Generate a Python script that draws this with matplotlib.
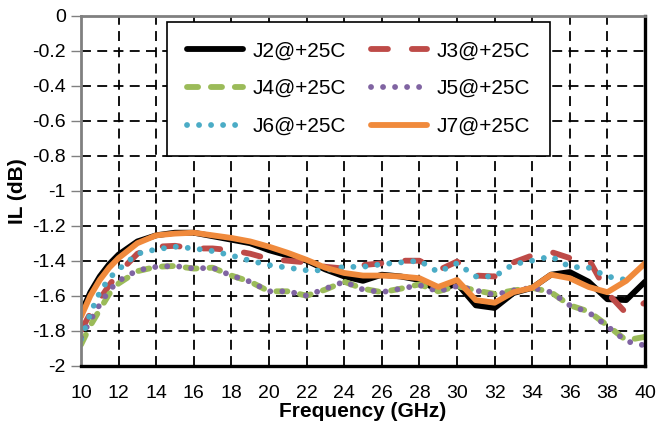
import numpy as np
import matplotlib
matplotlib.use('Agg')
import matplotlib.pyplot as plt

plt.rcParams['font.family'] = ['Liberation Sans', 'DejaVu Sans']
plt.rcParams['axes.unicode_minus'] = False

# ================= data =================
freq = [10, 10.5, 11, 11.5, 12, 13, 14, 15, 16, 17, 18, 19, 20, 21, 22, 23, 24,
        25, 26, 27, 28, 29, 30, 31, 32, 33, 34, 35, 36, 37, 38, 39, 40]

j2 = [-1.70, -1.58, -1.49, -1.42, -1.365, -1.29, -1.255, -1.24, -1.24, -1.26, -1.28,
      -1.30, -1.34, -1.37, -1.40, -1.45, -1.49, -1.515, -1.48, -1.49, -1.51, -1.57,
      -1.53, -1.655, -1.67, -1.585, -1.555, -1.48, -1.465, -1.52, -1.62, -1.625, -1.52]
j3 = [-1.80, -1.70, -1.62, -1.54, -1.47, -1.36, -1.32, -1.315, -1.33, -1.33, -1.34,
      -1.36, -1.39, -1.40, -1.41, -1.435, -1.445, -1.425, -1.415, -1.40, -1.40, -1.455,
      -1.405, -1.485, -1.49, -1.41, -1.37, -1.35, -1.385, -1.39, -1.585, -1.70, -1.64]
j4 = [-1.88, -1.77, -1.68, -1.59, -1.53, -1.46, -1.435, -1.43, -1.445, -1.44, -1.485,
      -1.52, -1.575, -1.575, -1.60, -1.565, -1.52, -1.56, -1.58, -1.56, -1.535, -1.575,
      -1.545, -1.57, -1.59, -1.57, -1.555, -1.58, -1.655, -1.69, -1.77, -1.855, -1.835]
j5 = [-1.84, -1.74, -1.65, -1.57, -1.515, -1.455, -1.435, -1.43, -1.445, -1.44, -1.485,
      -1.52, -1.575, -1.575, -1.60, -1.56, -1.52, -1.565, -1.58, -1.56, -1.54, -1.575,
      -1.545, -1.57, -1.595, -1.57, -1.555, -1.58, -1.655, -1.695, -1.775, -1.86, -1.885]
j6 = [-1.85, -1.70, -1.58, -1.50, -1.45, -1.36, -1.335, -1.32, -1.33, -1.345, -1.37,
      -1.40, -1.425, -1.44, -1.455, -1.455, -1.435, -1.435, -1.42, -1.41, -1.40, -1.465,
      -1.415, -1.49, -1.49, -1.42, -1.40, -1.375, -1.435, -1.44, -1.49, -1.51, np.nan]
j7 = [-1.72, -1.60, -1.51, -1.44, -1.385, -1.30, -1.255, -1.245, -1.24, -1.255, -1.27,
      -1.29, -1.32, -1.355, -1.395, -1.44, -1.47, -1.485, -1.485, -1.49, -1.50, -1.55,
      -1.51, -1.625, -1.64, -1.58, -1.555, -1.48, -1.50, -1.55, -1.58, -1.515, -1.415]

labels = ["J2@+25C", "J3@+25C", "J4@+25C", "J5@+25C", "J6@+25C", "J7@+25C"]
colors = ["#000000", "#BE4B48", "#9BBB59", "#8064A2", "#4BACC6", "#F08A3C"]
styles = ['-', (0, (2.9, 4.1)), (0, (1.9, 2.2)), (0, (0.01, 2.05)), (0, (0.01, 2.05)), '-']

# ================= plot =================
fig = plt.figure(figsize=(6.57, 4.26), dpi=100)
ax = fig.add_axes([81 / 657, 1 - 365.7 / 426, 564 / 657, 350 / 426])

handles = []
for y, lab, c, ls in zip([j2, j3, j4, j5, j6, j7], labels, colors, styles):
    h, = ax.plot(freq, y, color=c, linestyle=ls, lw=4.2, label=lab,
                 dash_capstyle='round', solid_capstyle='round')
    handles.append(h)

ax.set_xlim(10, 40)
ax.set_ylim(-2, 0)
ax.set_xticks(np.arange(10, 41, 2))
ax.set_yticks(np.round(np.arange(-2, 0.01, 0.2), 1))
ax.set_yticklabels([f"{v:g}" if abs(v) > 1e-9 else "0" for v in ax.get_yticks()])

ax.set_axisbelow(True)
ax.grid(True, color='black', linestyle=(0, (5.5, 3.5)), lw=1.3)

ax.tick_params(axis='y', length=7, width=1, color='#808080', labelsize=14, pad=4)
ax.tick_params(axis='x', length=0, labelsize=14, pad=14)

for side in ['left', 'top']:
    ax.spines[side].set_color('#808080')
    ax.spines[side].set_linewidth(2)
for side in ['bottom', 'right']:
    ax.spines[side].set_color('black')
    ax.spines[side].set_linewidth(2.4)

ax.set_xlabel("Frequency (GHz)", fontsize=15, fontweight='bold', labelpad=0)
ax.set_ylabel("IL (dB)", fontsize=15, fontweight='bold')
ax.yaxis.set_label_coords(-0.095, 0.5)

# legend is filled column-wise, so reorder to get J2 J3 / J4 J5 / J6 J7 rows
order = [0, 2, 4, 1, 3, 5]
leg = ax.legend([handles[i] for i in order], [labels[i] for i in order],
                ncol=2, loc='upper left', bbox_to_anchor=(0.152, 0.983),
                borderaxespad=0, fontsize=15, frameon=True, fancybox=False,
                handlelength=2.7, handletextpad=0.45, columnspacing=1.2,
                labelspacing=0.9, borderpad=0.95)
leg.get_frame().set_edgecolor('black')
leg.get_frame().set_linewidth(1.2)
leg.get_frame().set_alpha(1)

fig.savefig("out.png", dpi=100)
